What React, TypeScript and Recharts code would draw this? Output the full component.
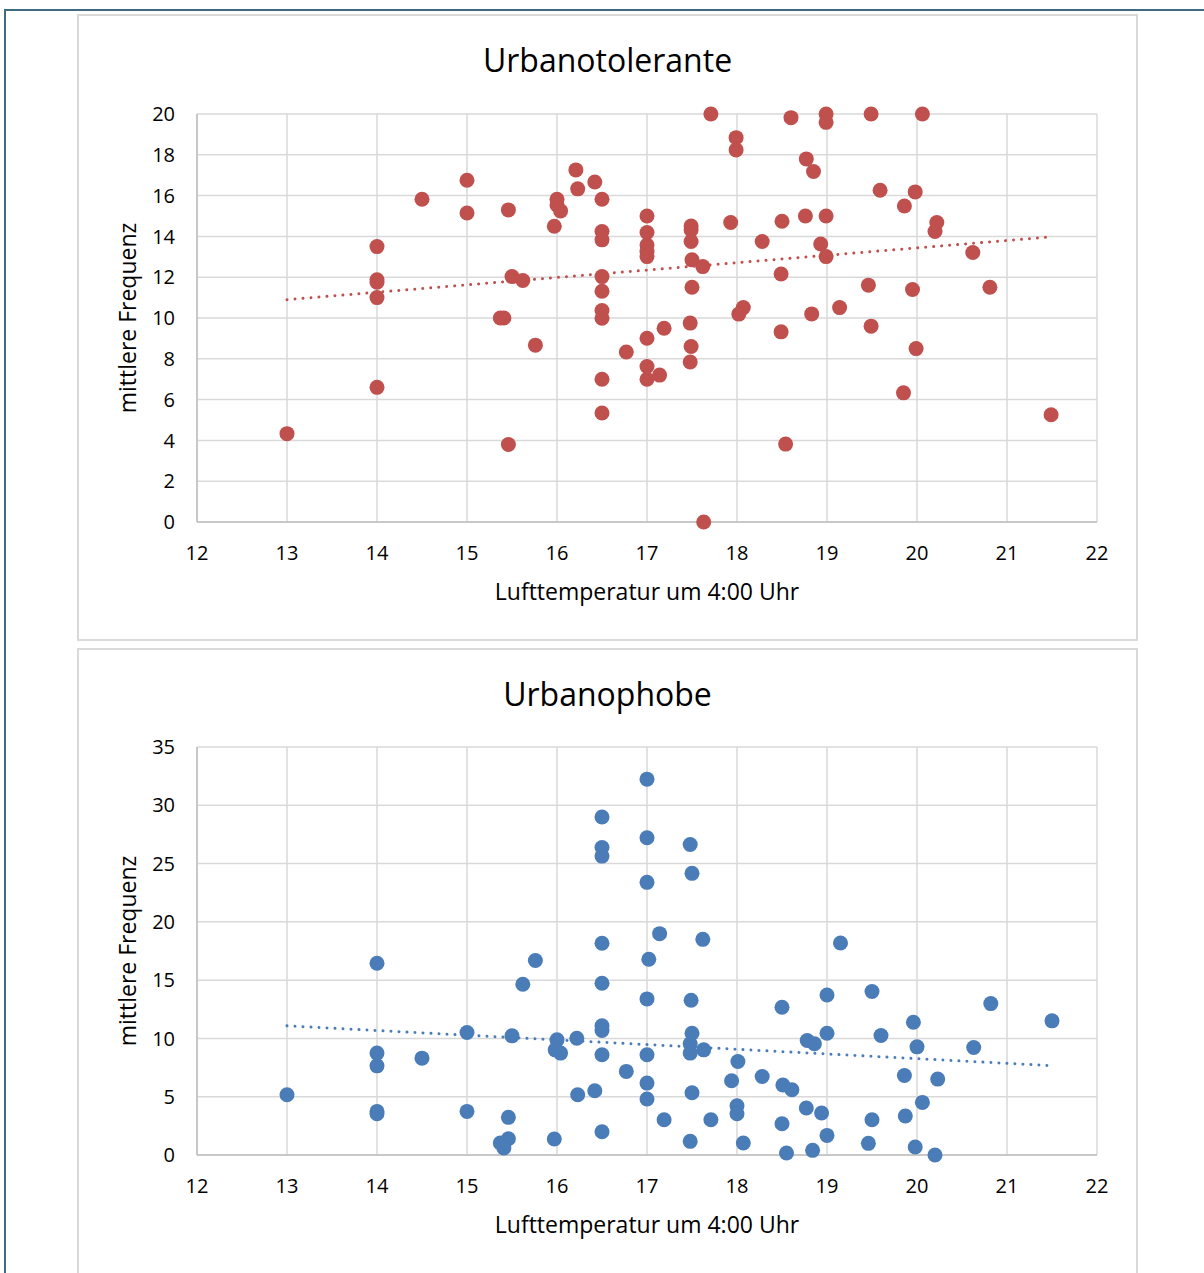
import { ScatterChart, Scatter, XAxis, YAxis, CartesianGrid, ReferenceLine, Label } from 'recharts'

// Lufttemperatur (°C) / mittlere Frequenz
const tolerantPoints: [number, number][] = [
  [13, 4.33], [14, 13.5], [14, 11.87], [14, 11.75], [14, 11.0], [14, 6.6], [14.5, 15.82],
  [15, 16.75], [15, 15.15], [15.46, 15.3], [15.5, 12.03], [15.62, 11.84], [15.37, 10.0],
  [15.41, 10.0], [15.76, 8.67], [15.46, 3.8], [16, 15.82], [16, 15.54], [16.04, 15.25],
  [15.97, 14.5], [16.21, 17.26], [16.23, 16.33], [16.42, 16.67], [16.5, 15.82], [16.5, 14.24],
  [16.5, 13.83], [16.5, 12.03], [16.5, 11.31], [16.5, 10.37], [16.5, 9.99], [16.77, 8.33],
  [16.5, 7.0], [16.5, 5.34], [17, 15.0], [17, 14.19], [17, 13.58], [17, 13.26], [17, 13.01],
  [17.49, 14.51], [17.49, 14.32], [17.49, 13.75], [17.5, 12.85], [17.62, 12.52], [17.5, 11.51],
  [17, 9.01], [17.19, 9.5], [17.48, 9.75], [17.49, 8.6], [17.48, 7.84], [17, 7.62], [17.14, 7.2],
  [17, 7.0], [17.63, 0], [17.71, 20], [17.99, 18.84], [17.99, 18.24], [17.93, 14.68],
  [18.28, 13.75], [18.07, 10.51], [18.02, 10.19], [18.49, 12.16], [18.5, 14.74], [18.49, 9.32],
  [18.54, 3.82], [18.6, 19.82], [18.77, 17.8], [18.85, 17.18], [18.76, 15.0], [18.83, 10.2],
  [18.99, 20], [18.99, 19.59], [18.99, 15.0], [18.93, 13.63], [18.99, 13.01], [19.14, 10.51],
  [19.49, 20], [19.59, 16.26], [19.46, 11.61], [19.49, 9.6], [20.06, 20], [19.98, 16.18],
  [19.86, 15.49], [20.22, 14.68], [20.2, 14.24], [19.95, 11.4], [19.99, 8.5], [19.85, 6.33],
  [20.62, 13.21], [20.81, 11.51], [21.49, 5.26],
]

const phobePoints: [number, number][] = [
  [13, 5.17], [14, 16.45], [14, 8.74], [14, 7.65], [14, 3.74], [14, 3.54], [14.5, 8.31],
  [15, 10.51], [15, 3.74], [15.5, 10.22], [15.46, 3.23], [15.46, 1.4], [15.37, 1.03],
  [15.41, 0.6], [15.62, 14.65], [15.76, 16.68], [16, 9.88], [15.98, 9.02], [16.04, 8.74],
  [15.97, 1.37], [16.22, 10.02], [16.23, 5.17], [16.42, 5.51], [16.5, 29.0], [16.5, 26.38],
  [16.5, 25.64], [16.5, 18.16], [16.5, 14.73], [16.5, 11.08], [16.5, 10.68], [16.5, 8.6],
  [16.5, 2.0], [16.77, 7.17], [17, 32.24], [17, 27.21], [17, 23.39], [17.02, 16.79],
  [17, 13.39], [17, 8.6], [17, 6.17], [17, 4.8], [17.14, 18.99], [17.48, 26.64], [17.5, 24.16],
  [17.62, 18.5], [17.49, 13.28], [17.5, 10.45], [17.48, 9.54], [17.48, 8.74], [17.63, 9.02],
  [17.5, 5.34], [17.48, 1.17], [17.19, 3.03], [17.71, 3.03], [18.01, 8.02], [17.94, 6.37],
  [18, 4.23], [18, 3.54], [18.07, 1.03], [18.28, 6.74], [18.5, 12.68], [18.51, 6.0],
  [18.61, 5.6], [18.5, 2.68], [18.55, 0.17], [18.77, 4.03], [18.78, 9.82], [18.86, 9.54],
  [18.94, 3.6], [18.84, 0.4], [19, 13.73], [19, 10.45], [19, 1.68], [19.15, 18.19],
  [19.5, 14.02], [19.6, 10.25], [19.5, 3.03], [19.46, 1.0], [19.96, 11.39], [20, 9.28],
  [19.86, 6.82], [19.87, 3.34], [20.06, 4.51], [19.98, 0.69], [20.23, 6.51], [20.2, 0.0],
  [20.63, 9.22], [20.82, 12.99], [21.5, 11.51],
]

// linear trendlines (Excel "Trendlinie"), endpoints
const tolerantTrend = [{ x: 13, y: 10.9 }, { x: 21.5, y: 13.98 }]
const phobeTrend = [{ x: 13, y: 11.08 }, { x: 21.5, y: 7.66 }]

const xTicks = [12, 13, 14, 15, 16, 17, 18, 19, 20, 21, 22]
const tolerantYTicks = [0, 2, 4, 6, 8, 10, 12, 14, 16, 18, 20]
const phobeYTicks = [0, 5, 10, 15, 20, 25, 30, 35]

const FONT = '"Open Sans", sans-serif'
const RED = '#c0504d'
const BLUE = '#4a7cb8'

const toRows = (pts: [number, number][]) => pts.map(([x, y]) => ({ x, y }))

interface PanelProps {
  top: number
  title: string
  points: [number, number][]
  trend: { x: number; y: number }[]
  yTicks: number[]
  color: string
  marginTop: number
  marginBottom: number
}

function Panel({ top, title, points, trend, yTicks, color, marginTop, marginBottom }: PanelProps) {
  const W = 1061
  const H = 627
  return (
    <div style={{ position: 'absolute', left: 77, top, width: W, height: H }}>
      <div
        style={{
          position: 'absolute',
          inset: 0,
          border: '2px solid #d9d9d9',
          boxSizing: 'border-box',
          pointerEvents: 'none',
        }}
      />
      <div
        style={{
          position: 'absolute',
          left: 0,
          width: W,
          top: 24,
          textAlign: 'center',
          fontFamily: FONT,
          fontSize: 32,
          color: '#000',
          lineHeight: '44px',
        }}
      >
        {title}
      </div>
      <ScatterChart
        width={W}
        height={H}
        margin={{ top: marginTop, right: 41, bottom: marginBottom, left: 0 }}
        style={{ position: 'absolute', left: 0, top: 0 }}
      >
        <CartesianGrid stroke="#d9d9d9" strokeWidth={1.5} />
        <XAxis
          type="number"
          dataKey="x"
          domain={[12, 22]}
          ticks={xTicks}
          interval={0}
          height={40}
          tickSize={0}
          tickMargin={24}
          axisLine={{ stroke: '#bfbfbf', strokeWidth: 1.5 }}
          tick={{ fill: '#000', fontSize: 20, fontFamily: FONT }}
        >
          <Label
            value="Lufttemperatur um 4:00 Uhr"
            position="bottom"
            offset={22}
            style={{ fill: '#000', fontSize: 23, fontFamily: FONT }}
          />
        </XAxis>
        <YAxis
          type="number"
          dataKey="y"
          domain={[yTicks[0], yTicks[yTicks.length - 1]]}
          ticks={yTicks}
          interval={0}
          width={120}
          tickSize={0}
          tickMargin={22}
          axisLine={{ stroke: '#bfbfbf', strokeWidth: 1.5 }}
          tick={{ fill: '#000', fontSize: 20, fontFamily: FONT }}
        >
          <Label
            value="mittlere Frequenz"
            angle={-90}
            position="insideLeft"
            offset={51}
            style={{ fill: '#000', fontSize: 23, fontFamily: FONT, textAnchor: 'middle' }}
          />
        </YAxis>
        <Scatter
          data={toRows(points)}
          isAnimationActive={false}
          shape={(p: any) => <circle cx={p.cx} cy={p.cy} r={7.5} fill={color} />}
        />
        <ReferenceLine
          segment={trend}
          stroke={color}
          strokeWidth={3}
          strokeDasharray="0.01 8"
          strokeLinecap="round"
        />
      </ScatterChart>
    </div>
  )
}

export default function App() {
  return (
    <div
      style={{
        position: 'absolute',
        left: 0,
        top: 0,
        width: 1204,
        height: 1273,
        overflow: 'hidden',
        background: '#fff',
      }}
    >
      <div
        style={{
          position: 'absolute',
          left: 4,
          top: 9,
          width: 1400,
          height: 1400,
          borderLeft: '2px solid #3e6a82',
          borderTop: '2px solid #3e6a82',
        }}
      />
      <Panel
        top={14}
        title="Urbanotolerante"
        points={tolerantPoints}
        trend={tolerantTrend}
        yTicks={tolerantYTicks}
        color={RED}
        marginTop={100}
        marginBottom={79}
      />
      <Panel
        top={648}
        title="Urbanophobe"
        points={phobePoints}
        trend={phobeTrend}
        yTicks={phobeYTicks}
        color={BLUE}
        marginTop={99}
        marginBottom={80}
      />
    </div>
  )
}
